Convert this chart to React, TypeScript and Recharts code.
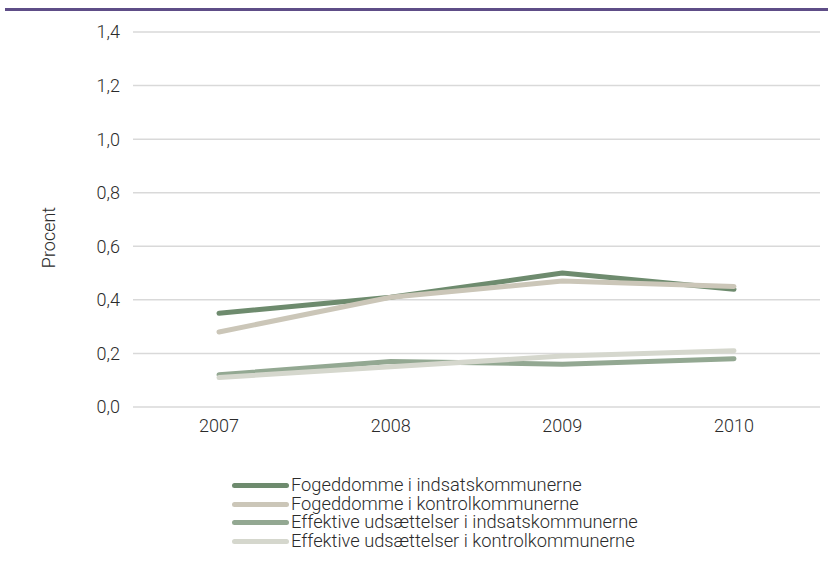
import React from "react";
import { LineChart, Line, XAxis, YAxis, CartesianGrid } from "recharts";

const years = ["2007", "2008", "2009", "2010"];
const fogedIndsats = [0.35, 0.41, 0.5, 0.44];
const fogedKontrol = [0.28, 0.41, 0.47, 0.45];
const effIndsats = [0.12, 0.17, 0.16, 0.18];
const effKontrol = [0.11, 0.15, 0.19, 0.21];
const yTicks = [0, 0.2, 0.4, 0.6, 0.8, 1.0, 1.2, 1.4];

const seriesNames = [
  "Fogeddomme i indsatskommunerne",
  "Fogeddomme i kontrolkommunerne",
  "Effektive udsættelser i indsatskommunerne",
  "Effektive udsættelser i kontrolkommunerne",
];
const colors = ["#6e8b6e", "#cbc6b8", "#93a892", "#d5d7cd"];

const data = years.map((y, i) => ({
  year: y,
  s0: fogedIndsats[i],
  s1: fogedKontrol[i],
  s2: effIndsats[i],
  s3: effKontrol[i],
}));

const FONT = "Roboto, 'DejaVu Sans', sans-serif";
const TEXT = "#2b2b2b";

const fmt = (v: number) => v.toFixed(1).replace(".", ",");

const YLabel = (props: any) => {
  const vb = props.viewBox || {};
  const cx = 48;
  const cy = (vb.y || 0) + (vb.height || 0) / 2 + 18;
  return (
    <text
      x={cx}
      y={cy}
      transform={`rotate(-90, ${cx}, ${cy})`}
      textAnchor="middle"
      dominantBaseline="central"
      style={{ fontFamily: FONT, fontWeight: 300, fontSize: 18, fill: TEXT }}
    >
      Procent
    </text>
  );
};

export default function App() {
  return (
    <div style={{ position: "absolute", left: 0, top: 0, width: 828, height: 566, background: "#fff" }}>
      <div
        style={{
          position: "absolute",
          left: 5,
          top: 8,
          width: 823,
          height: 3,
          background: "#5e4d87",
        }}
      />
      <LineChart
        width={828}
        height={566}
        data={data}
        margin={{ top: 32, right: 8, bottom: 129, left: 0 }}
      >
        <CartesianGrid vertical={false} stroke="#d9d9d9" strokeWidth={1.5} />
        <XAxis
          dataKey="year"
          height={30}
          axisLine={false}
          tickLine={false}
          padding={{ left: 86, right: 86 }}
          tick={{ fontFamily: FONT, fontWeight: 300, fontSize: 18, fill: TEXT }}
          tickMargin={6}
        />
        <YAxis
          width={133}
          domain={[0, 1.4]}
          ticks={yTicks}
          tickFormatter={fmt}
          axisLine={false}
          tickLine={false}
          tickMargin={7}
          tick={{ fontFamily: FONT, fontWeight: 300, fontSize: 18, fill: TEXT }}
          label={<YLabel />}
        />
        {["s0", "s1", "s2", "s3"].map((k, i) => (
          <Line
            key={k}
            dataKey={k}
            name={seriesNames[i]}
            stroke={colors[i]}
            strokeWidth={5}
            strokeLinecap="round"
            strokeLinejoin="round"
            dot={false}
            activeDot={false}
            isAnimationActive={false}
          />
        ))}
      </LineChart>
      <div
        style={{
          position: "absolute",
          left: 232,
          top: 476,
          fontFamily: FONT,
          fontWeight: 300,
          fontSize: 18.3,
          color: TEXT,
        }}
      >
        {seriesNames.map((n, i) => (
          <div key={n} style={{ display: "flex", alignItems: "center", height: 18.7, whiteSpace: "nowrap" }}>
            <div
              style={{
                width: 57,
                height: 5,
                borderRadius: 3,
                background: colors[i],
                marginRight: 2,
                flexShrink: 0,
              }}
            />
            <span style={{ lineHeight: "18.7px" }}>{n}</span>
          </div>
        ))}
      </div>
    </div>
  );
}
